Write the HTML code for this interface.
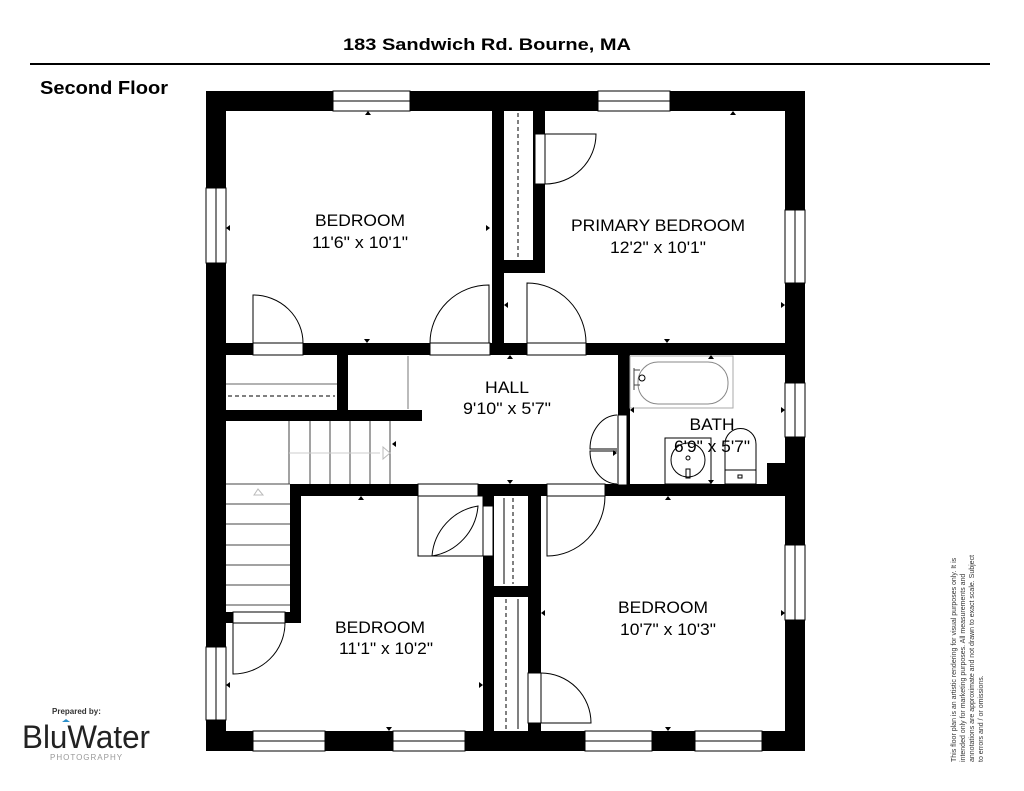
<!DOCTYPE html>
<html><head><meta charset="utf-8"><style>
html,body{margin:0;padding:0;background:#fff;}
svg{display:block;}
text{font-family:"Liberation Sans",Arial,sans-serif;}
</style></head><body>
<svg width="1024" height="791" viewBox="0 0 1024 791" xmlns="http://www.w3.org/2000/svg">
<rect width="1024" height="791" fill="#fff"/>
<text x="487" y="50" font-size="17" font-weight="bold" text-anchor="middle" textLength="288" lengthAdjust="spacingAndGlyphs">183 Sandwich Rd. Bourne, MA</text>
<line x1="30" y1="64" x2="990" y2="64" stroke="#000" stroke-width="2"/>
<text x="40" y="94" font-size="18" font-weight="bold" textLength="128" lengthAdjust="spacingAndGlyphs">Second Floor</text>

<g fill="#000">
<rect x="206" y="91" width="599" height="20"/>
<rect x="206" y="731" width="599" height="20"/>
<rect x="206" y="91" width="20" height="660"/>
<rect x="785" y="91" width="20" height="660"/>
<rect x="492" y="111" width="12" height="240"/>
<rect x="533" y="111" width="12" height="162"/>
<rect x="504" y="260" width="41" height="13"/>
<rect x="226" y="343" width="559" height="12"/>
<rect x="337" y="355" width="11" height="60"/>
<rect x="226" y="410" width="196" height="11"/>
<rect x="618" y="355" width="12" height="130"/>
<rect x="290" y="484" width="495" height="12"/>
<rect x="290" y="484" width="11" height="139"/>
<rect x="226" y="612" width="75" height="11"/>
<rect x="767" y="463" width="18" height="22"/>
<rect x="483" y="496" width="11" height="235"/>
<rect x="528" y="496" width="13" height="235"/>
<rect x="494" y="586" width="34" height="11"/>
</g>
<g fill="#fff" stroke="#000" stroke-width="1">
<rect x="333" y="91" width="77" height="20"/><line x1="333" y1="101" x2="410" y2="101"/>
<rect x="598" y="91" width="72" height="20"/><line x1="598" y1="101" x2="670" y2="101"/>
<rect x="206" y="188" width="20" height="75"/><line x1="216" y1="188" x2="216" y2="263"/>
<rect x="206" y="647" width="20" height="73"/><line x1="216" y1="647" x2="216" y2="720"/>
<rect x="785" y="210" width="20" height="73"/><line x1="795" y1="210" x2="795" y2="283"/>
<rect x="785" y="383" width="20" height="54"/><line x1="795" y1="383" x2="795" y2="437"/>
<rect x="785" y="545" width="20" height="75"/><line x1="795" y1="545" x2="795" y2="620"/>
<rect x="253" y="731" width="72" height="20"/><line x1="253" y1="741" x2="325" y2="741"/>
<rect x="393" y="731" width="72" height="20"/><line x1="393" y1="741" x2="465" y2="741"/>
<rect x="585" y="731" width="67" height="20"/><line x1="585" y1="741" x2="652" y2="741"/>
<rect x="695" y="731" width="67" height="20"/><line x1="695" y1="741" x2="762" y2="741"/>
<rect x="253" y="343" width="50" height="12"/>
<rect x="430" y="343" width="60" height="12"/>
<rect x="527" y="343" width="59" height="12"/>
<rect x="535" y="134" width="10" height="50"/>
<rect x="618" y="415" width="9" height="70"/>
<rect x="418" y="484" width="60" height="12"/>
<rect x="547" y="484" width="58" height="12"/>
<rect x="483" y="506" width="10" height="50"/>
<rect x="528" y="673" width="13" height="50"/>
<rect x="233" y="612" width="52" height="11"/>
</g>
<g fill="none" stroke="#000" stroke-width="1">
<line x1="518" y1="113" x2="518" y2="258" stroke-dasharray="4,3"/>
<line x1="513" y1="498" x2="513" y2="584" stroke-dasharray="4,3"/>
<line x1="506" y1="599" x2="506" y2="729" stroke-dasharray="4,3"/>
<line x1="504" y1="498" x2="504" y2="584"/>
<line x1="518" y1="599" x2="518" y2="729"/>
<line x1="228" y1="396" x2="335" y2="396" stroke-dasharray="4,3"/>
<line x1="226" y1="384" x2="337" y2="384" stroke="#666"/>
<line x1="408" y1="356" x2="408" y2="409" stroke="#777"/>
<g stroke="#444">
<line x1="289" y1="421" x2="289" y2="484"/>
<line x1="310" y1="421" x2="310" y2="484"/>
<line x1="330" y1="421" x2="330" y2="484"/>
<line x1="350" y1="421" x2="350" y2="484"/>
<line x1="370" y1="421" x2="370" y2="484"/>
<line x1="390" y1="421" x2="390" y2="484"/>
<line x1="226" y1="484" x2="290" y2="484"/>
<line x1="226" y1="504" x2="290" y2="504"/>
<line x1="226" y1="524" x2="290" y2="524"/>
<line x1="226" y1="545" x2="290" y2="545"/>
<line x1="226" y1="565" x2="290" y2="565"/>
<line x1="226" y1="585" x2="290" y2="585"/>
<line x1="226" y1="605" x2="290" y2="605"/>
</g>
<line x1="289" y1="453" x2="380" y2="453" stroke="#ccc"/>
<path d="M383 447 L390 453 L383 459 Z" stroke="#bbb"/>
<path d="M258 495 L253 489 L262 489 Z" stroke="#bbb" transform="rotate(180 258 492)"/>
<path d="M253 343 L253 295 A50 48 0 0 1 303 343"/>
<path d="M489 343 L489 285 A59 58 0 0 0 430 343"/>
<path d="M527 343 L527 283 A59 60 0 0 1 586 343"/>
<path d="M545 134 L596 134 A51 50 0 0 1 545 184"/>
<path d="M233 623 L233 674 A52 51 0 0 0 285 623"/>
<path d="M547 496 L547 556 A58 60 0 0 0 605 496"/>
<path d="M541 673 A50 50 0 0 1 591 723 L541 723"/>
<rect x="418" y="496" width="65" height="60"/>
<path d="M432 556 A55 55 0 0 1 478 506 A55 55 0 0 1 432 556"/>
<path d="M617 449 L590 449 A28 34 0 0 1 617 415"/>
<path d="M617 451 L590 451 A28 33 0 0 0 617 484"/>
<rect x="630" y="356" width="103" height="52" stroke="#aaa"/>
<rect x="638" y="362" width="90" height="42" rx="20" stroke="#888"/>
<path d="M634 370 L640 370 M634 385 L640 385 M634 368 L634 390" stroke="#444"/>
<circle cx="642" cy="378" r="3"/>
<rect x="665" y="438" width="46" height="46"/>
<circle cx="688" cy="460" r="17"/>
<circle cx="688" cy="458" r="2"/>
<rect x="686" y="469" width="4" height="9"/>
<path d="M725 484 L725 444 A15 15 0 0 1 756 444 L756 484 Z"/>
<line x1="725" y1="470" x2="756" y2="470"/>
<rect x="738" y="475" width="4" height="3"/>
</g>
<g fill="#000">
<path d="M368 111 l-3 4 h6z"/><path d="M733 111 l-3 4 h6z"/>
<path d="M226 228 l4 -3 v6z"/><path d="M490 228 l-4 -3 v6z"/>
<path d="M504 305 l4 -3 v6z"/><path d="M785 305 l-4 -3 v6z"/>
<path d="M367 343 l-3 -4 h6z"/><path d="M667 343 l-3 -4 h6z"/>
<path d="M510 355 l-3 4 h6z"/><path d="M711 355 l-3 4 h6z"/>
<path d="M630 410 l4 -3 v6z"/><path d="M785 410 l-4 -3 v6z"/>
<path d="M617 453 l-4 -3 v6z"/><path d="M392 444 l4 -3 v6z"/>
<path d="M510 484 l-3 -4 h6z"/><path d="M711 484 l-3 -4 h6z"/>
<path d="M361 496 l-3 4 h6z"/><path d="M668 496 l-3 4 h6z"/>
<path d="M226 685 l4 -3 v6z"/><path d="M483 685 l-4 -3 v6z"/>
<path d="M541 613 l4 -3 v6z"/><path d="M785 613 l-4 -3 v6z"/>
<path d="M389 731 l-3 -4 h6z"/><path d="M668 731 l-3 -4 h6z"/>
</g>
<g font-size="17" text-anchor="middle" fill="#000">
<text x="360" y="226" textLength="90" lengthAdjust="spacingAndGlyphs">BEDROOM</text><text x="360" y="248" textLength="96" lengthAdjust="spacingAndGlyphs">11'6" x 10'1"</text>
<text x="658" y="231" textLength="174" lengthAdjust="spacingAndGlyphs">PRIMARY BEDROOM</text><text x="658" y="253" textLength="96" lengthAdjust="spacingAndGlyphs">12'2" x 10'1"</text>
<text x="507" y="393" textLength="44" lengthAdjust="spacingAndGlyphs">HALL</text><text x="507" y="414" textLength="88" lengthAdjust="spacingAndGlyphs">9'10" x 5'7"</text>
<text x="712" y="430" textLength="45" lengthAdjust="spacingAndGlyphs">BATH</text><text x="712" y="452" textLength="76" lengthAdjust="spacingAndGlyphs">6'9" x 5'7"</text>
<text x="380" y="633" textLength="90" lengthAdjust="spacingAndGlyphs">BEDROOM</text><text x="386" y="654" textLength="94" lengthAdjust="spacingAndGlyphs">11'1" x 10'2"</text>
<text x="663" y="613" textLength="90" lengthAdjust="spacingAndGlyphs">BEDROOM</text><text x="668" y="635" textLength="96" lengthAdjust="spacingAndGlyphs">10'7" x 10'3"</text>
</g>
<text x="52" y="714" font-size="8" font-weight="bold" fill="#333">Prepared by:</text>
<text x="22" y="748" font-size="32" fill="#222" textLength="128" lengthAdjust="spacingAndGlyphs">BluWater</text>
<path d="M62 722 l4 -3 l4 3 z" fill="#2a8ec9"/>
<text x="50" y="760" font-size="8" fill="#999" letter-spacing="1">PHOTOGRAPHY</text>
<g font-size="7" fill="#333" transform="rotate(-90)">
<text x="-762" y="956">This floor plan is an artistic rendering for visual purposes only. It is</text>
<text x="-762" y="965">intended only for marketing purposes. All measurements and</text>
<text x="-762" y="974">annotations are approximate and not drawn to exact scale. Subject</text>
<text x="-762" y="983">to errors and / or omissions.</text>
</g>
</svg>
</body></html>
